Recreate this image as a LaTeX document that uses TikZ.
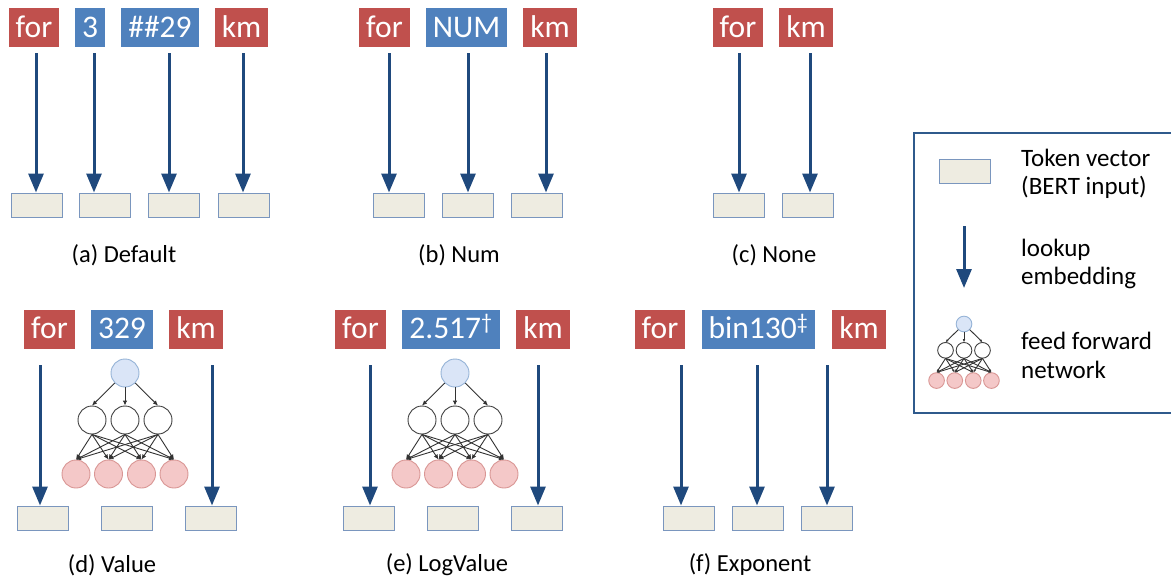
\documentclass[tikz,border=0pt]{standalone}
\usepackage{fontspec}
\setmainfont{Carlito}
\usetikzlibrary{arrows.meta}
\definecolor{tred}{HTML}{C0504D}
\definecolor{tblue}{HTML}{4F81BD}
\definecolor{arrc}{HTML}{1F497D}
\definecolor{vecf}{HTML}{EEECE1}
\definecolor{vecb}{HTML}{7A96BE}
\definecolor{inf}{HTML}{DAE5F7}
\definecolor{inb}{HTML}{95B3D7}
\definecolor{outf}{HTML}{F4C8C8}
\definecolor{outb}{HTML}{D99694}
\definecolor{legb}{HTML}{2F5A8C}
\tikzset{
  tok/.style={text=white, inner sep=0pt, minimum height=39pt, text height=19.5pt, text depth=0pt,
    font=\fontsize{31.5}{31.5}\selectfont},
  tokr/.style={tok, fill=tred},
  tokb/.style={tok, fill=tblue},
  vec/.style={draw=vecb, fill=vecf, line width=1pt, minimum width=51pt, minimum height=24pt, inner sep=0pt},
  arr/.style={draw=arrc, line width=3pt, -{Triangle[length=19pt,width=15pt]}},
  captxt/.style={font=\fontsize{24.5}{24.5}\selectfont, inner sep=0pt},
  legtxt/.style={anchor=west, align=left, inner sep=0pt, font=\fontsize{25}{28}\selectfont},
  ffc/.style={circle, inner sep=0pt, minimum size=28pt, line width=0.9pt},
  ffin/.style={ffc, draw=inb, fill=inf},
  ffmid/.style={ffc, draw=black!75, fill=white},
  ffout/.style={ffc, draw=outb, fill=outf},
  ffe/.style={draw=black!80, line width=0.9pt, -{Latex[length=5pt,width=4.5pt]}},
  ffn/.pic={
    \node[ffin] (-t) at (0,0) {};
    \node[ffmid] (-m1) at (-33,47) {};
    \node[ffmid] (-m2) at (0,47) {};
    \node[ffmid] (-m3) at (33,47) {};
    \node[ffout] (-b1) at (-49,101) {};
    \node[ffout] (-b2) at (-16.5,101) {};
    \node[ffout] (-b3) at (16.5,101) {};
    \node[ffout] (-b4) at (49,101) {};
    \foreach \m in {1,2,3}{
      \draw[ffe] (-t) -- (-m\m.north);
      \foreach \b in {1,2,3,4}{ \draw[ffe] (-m\m.south) -- (-b\b.north); }
    }
  }
}
\begin{document}
\begin{tikzpicture}[x=1pt,y=-1pt]
\useasboundingbox (0,0) rectangle (1171,579);
\fill[white] (0,0) rectangle (1171,579);

% ---------- (a) Default ----------
\node[tokr, minimum width=50pt] (afor) at (34,27.5) {for};
\node[tokb, minimum width=30pt] (a3) at (90,27.5) {3};
\node[tokb, minimum width=78pt] (a29) at (160,27.5) {\#\#29};
\node[tokr, minimum width=53pt] (akm) at (241.5,27.5) {km};
\node[vec] (av1) at (36.5,205) {};
\node[vec] (av2) at (105,205) {};
\node[vec] (av3) at (174,205) {};
\node[vec] (av4) at (243.5,205) {};
\coordinate (as1) at (36,53);
\coordinate (as2) at (94,53);
\coordinate (as3) at (169,53);
\coordinate (as4) at (243,53);
\draw[arr] (as1) -- (as1 |- av1.north);
\draw[arr] (as2) -- (as2 |- av2.north);
\draw[arr] (as3) -- (as3 |- av3.north);
\draw[arr] (as4) -- (as4 |- av4.north);
\node[captxt] (capa) at (124,255) {(a) Default};

% ---------- (b) Num ----------
\node[tokr, minimum width=51pt] (bfor) at (384.5,27.5) {for};
\node[tokb, minimum width=81pt] (bnum) at (466.5,27.5) {NUM};
\node[tokr, minimum width=54pt] (bkm) at (550,27.5) {km};
\node[vec] (bv1) at (398.5,205) {};
\node[vec] (bv2) at (467.5,205) {};
\node[vec] (bv3) at (537,205) {};
\coordinate (bs1) at (389,53);
\coordinate (bs2) at (468,53);
\coordinate (bs3) at (546,53);
\draw[arr] (bs1) -- (bs1 |- bv1.north);
\draw[arr] (bs2) -- (bs2 |- bv2.north);
\draw[arr] (bs3) -- (bs3 |- bv3.north);
\node[captxt] (capb) at (459,255) {(b) Num};

% ---------- (c) None ----------
\node[tokr, minimum width=50pt] (cfor) at (738,27.5) {for};
\node[tokr, minimum width=54pt] (ckm) at (806,27.5) {km};
\node[vec] (cv1) at (738.5,205) {};
\node[vec] (cv2) at (807.5,205) {};
\coordinate (cs1) at (739,53);
\coordinate (cs2) at (810,53);
\draw[arr] (cs1) -- (cs1 |- cv1.north);
\draw[arr] (cs2) -- (cs2 |- cv2.north);
\node[captxt] (capc) at (774,255) {(c) None};

% ---------- (d) Value ----------
\node[tokr, minimum width=51pt] (dfor) at (49.5,329) {for};
\node[tokb, minimum width=62pt] (d329) at (122,329) {329};
\node[tokr, minimum width=54pt] (dkm) at (196,329) {km};
\node[vec] (dv1) at (42.5,518) {};
\node[vec] (dv2) at (126.5,518) {};
\node[vec] (dv3) at (210.5,518) {};
\coordinate (ds1) at (40,365);
\coordinate (ds3) at (212,365);
\draw[arr] (ds1) -- (ds1 |- dv1.north);
\draw[arr] (ds3) -- (ds3 |- dv3.north);
\pic (dn) at (125,373) {ffn};
\node[captxt] (capd) at (112,565) {(d) Value};

% ---------- (e) LogValue ----------
\node[tokr, minimum width=51pt] (efor) at (360.5,329) {for};
\node[tokb, minimum width=98pt] (elog) at (451,329) {2.517\textsuperscript{†}};
\node[tokr, minimum width=54pt] (ekm) at (543,329) {km};
\node[vec] (ev1) at (368.5,518) {};
\node[vec] (ev2) at (452.5,518) {};
\node[vec] (ev3) at (537,518) {};
\coordinate (es1) at (370,365);
\coordinate (es3) at (538,365);
\draw[arr] (es1) -- (es1 |- ev1.north);
\draw[arr] (es3) -- (es3 |- ev3.north);
\pic (en) at (455,373) {ffn};
\node[captxt] (cape) at (447,565) {(e) LogValue};

% ---------- (f) Exponent ----------
\node[tokr, minimum width=50pt] (ffor) at (660,329) {for};
\node[tokb, minimum width=113pt] (fbin) at (758.5,329) {bin130\textsuperscript{‡}};
\node[tokr, minimum width=54pt] (fkm) at (859,329) {km};
\node[vec] (fv1) at (688.5,518) {};
\node[vec] (fv2) at (757.5,518) {};
\node[vec] (fv3) at (826.5,518) {};
\coordinate (fs1) at (681,365);
\coordinate (fs2) at (757,365);
\coordinate (fs3) at (827,365);
\draw[arr] (fs1) -- (fs1 |- fv1.north);
\draw[arr] (fs2) -- (fs2 |- fv2.north);
\draw[arr] (fs3) -- (fs3 |- fv3.north);
\node[captxt] (capf) at (750,565) {(f) Exponent};

% ---------- legend ----------
\draw[legb, line width=1.5pt] (1175,133) -- (914,133) -- (914,413) -- (1175,413);
\node[vec] (lv) at (964.5,171) {};
\node[legtxt] (lt1) at (1021,174) {Token vector\\(BERT input)};
\coordinate (ls) at (964,226);
\coordinate (le) at (964,288);
\draw[arr] (ls) -- (le);
\node[legtxt] (lt2) at (1021,264) {lookup\\embedding};
\begin{scope}[shift={(964,324)}, scale=0.56, transform shape]
  \pic[ffe/.append style={-{Latex[length=3pt,width=2.6pt]}}] (ln) at (0,0) {ffn};
\end{scope}
\node[legtxt, font=\fontsize{25}{29}\selectfont] (lt3) at (1021,355) {feed forward\\network};
\end{tikzpicture}
\end{document}
